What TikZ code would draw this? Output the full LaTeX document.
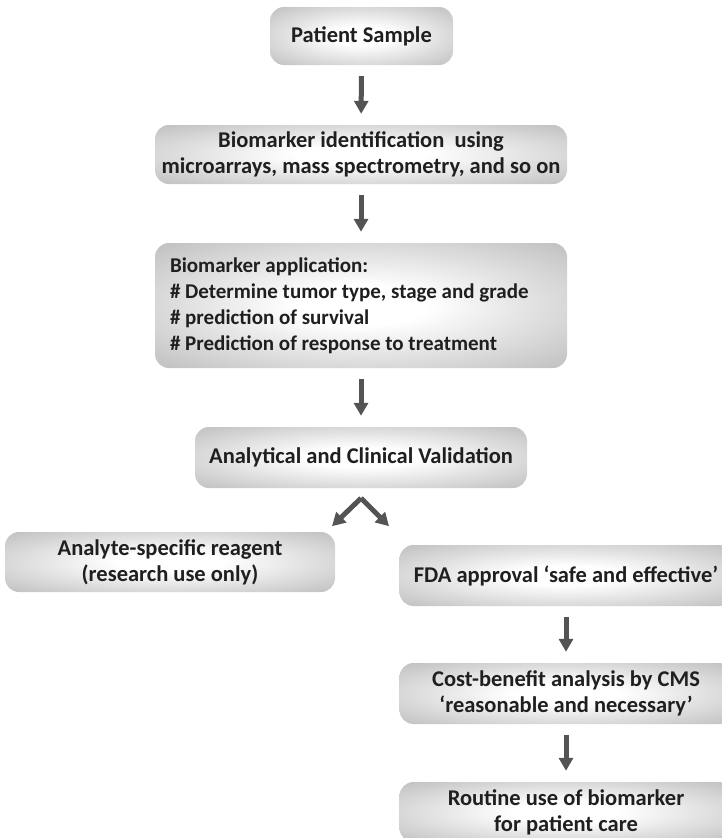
\documentclass[tikz,border=0pt]{standalone}
\usepackage{fontspec}
\setmainfont{Carlito}
\usetikzlibrary{arrows.meta}
\pgfdeclareradialshading{boxglow}{\pgfpoint{0bp}{0bp}}{color(0bp)=(white); color(8bp)=(white); color(50bp)=(black!38); color(71bp)=(black!48)}

\begin{document}
\begin{tikzpicture}[x=1pt, y=-1pt, every node/.style={font=\bfseries\fontsize{22.5}{26}\selectfont, text=black!88}, >={Triangle[length=13pt,width=14pt]},
	box/.style={shade, shading=boxglow, rounded corners=14pt, inner sep=0pt, align=center},
	flow/.style={->, line width=5pt, black!67, shorten <=11pt, shorten >=11pt}]
	\useasboundingbox (0,0) rectangle (722,838);
	% main column
	\node[box, minimum width=183pt, minimum height=58pt] (patient) at (361.5,36) {Patient Sample};
	\node[box, minimum width=412pt, minimum height=59pt] (ident) at (361,154.5) {Biomarker identification\ \ using\\microarrays, mass spectrometry, and so on};
	\node[box, minimum width=412pt, minimum height=125pt, text width=382pt, align=flush left, font=\bfseries\fontsize{21}{26}\selectfont] (appl) at (361,305.5) {Biomarker application:\\\# Determine tumor type, stage and grade\\\# prediction of survival\\\# Prediction of response to treatment};
	\node[box, minimum width=332pt, minimum height=61pt] (valid) at (361,457.5) {Analytical and Clinical Validation};
	% two branches
	\node[box, minimum width=330pt, minimum height=60pt] (asr) at (170,562) {Analyte-specific reagent\\(research use only)};
	\node[box, minimum width=333pt, minimum height=61pt] (fda) at (566,575.5) {FDA approval ‘safe and effective’};
	\node[box, minimum width=333pt, minimum height=61pt] (cms) at (566,693.5) {Cost-benefit analysis by CMS\\‘reasonable and necessary’};
	\node[box, minimum width=333pt, minimum height=60pt] (routine) at (566,812) {Routine use of biomarker\\for patient care};
	% arrows
	\draw[flow] (patient) -- (ident);
	\draw[flow] (ident) -- (appl);
	\draw[flow] (appl) -- (valid);
	\draw[flow] (fda) -- (cms);
	\draw[flow] (cms) -- (routine);
	\coordinate (fork) at ([yshift=-10pt]valid.south);
	\coordinate (forkL) at ([xshift=-29pt, yshift=-28pt]fork);
	\coordinate (forkR) at ([xshift=28pt, yshift=-28pt]fork);
	\draw[flow, shorten <=0pt, shorten >=0pt] (fork) -- (forkL);
	\draw[flow, shorten <=0pt, shorten >=0pt] (fork) -- (forkR);
\end{tikzpicture}
\end{document}
